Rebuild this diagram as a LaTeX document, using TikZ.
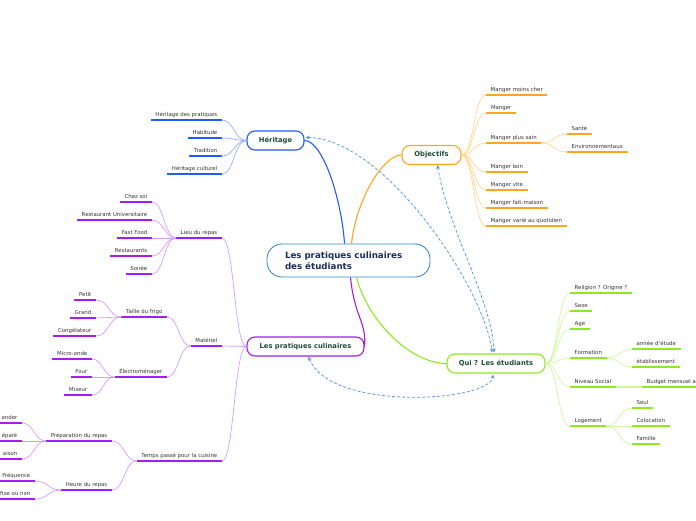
\documentclass[tikz,border=0pt]{standalone}
\usepackage{fontspec}
\setmainfont{DejaVu Sans}
\usetikzlibrary{arrows.meta,calc}
\definecolor{cblue}{HTML}{1F5CFF}
\definecolor{cbluel}{HTML}{8FB0FF}
\definecolor{corange}{HTML}{FFA51F}
\definecolor{corangel}{HTML}{FFD590}
\definecolor{cpurple}{HTML}{A41CF0}
\definecolor{cpurplel}{HTML}{D49CFF}
\definecolor{cgreen}{HTML}{8CEB1E}
\definecolor{cgreenl}{HTML}{CDF7A0}
\definecolor{ccentral}{HTML}{3A88C8}
\definecolor{crel}{HTML}{5A9BE0}
\definecolor{txt}{HTML}{333333}
\definecolor{ntxt}{HTML}{1E4D3A}
\definecolor{ctxt}{HTML}{1C2E5E}
\begin{document}
\begin{tikzpicture}[x=1pt,y=-1pt,
  leafbase/.style={font=\fontsize{5.4}{6}\selectfont, text=txt, inner xsep=4.5pt, inner ysep=2.3pt,
    text height=4pt, text depth=1pt},
  leafR/.style={leafbase, anchor=south west,
    append after command={(\tikzlastnode.south west) edge[draw=#1,line width=1.5pt] (\tikzlastnode.south east)}},
  leafL/.style={leafbase, anchor=south east,
    append after command={(\tikzlastnode.south west) edge[draw=#1,line width=1.5pt] (\tikzlastnode.south east)}},
  branch/.style={draw=#1, line width=1.1pt, fill=white, rounded corners=8pt, text=ntxt,
    font=\fontsize{6.8}{8}\selectfont\bfseries, minimum height=19pt, inner sep=0pt},
  hc/.style={to path={let \p1=(\tikztostart), \p2=(\tikztotarget) in
    .. controls (\x1/2+\x2/2,\y1) and (\x1/2+\x2/2,\y2) .. (\tikztotarget)}},
  conn/.style={draw=#1, line width=0.7pt},
  mainline/.style={draw=#1, line width=1.1pt},
  rel/.style={draw=crel, dashed, dash pattern=on 3pt off 2pt, line width=0.8pt,
    arrows={Stealth[length=4pt,width=4pt]-Stealth[length=4pt,width=4pt]}}
]
\useasboundingbox (0,0) rectangle (696,520);

% central node
\node[draw=ccentral, line width=0.9pt, fill=white, rounded corners=15pt, minimum height=33pt,
  text width=127pt, inner xsep=18pt, align=left, text=ctxt,
  font=\fontsize{8.7}{10.8}\selectfont\bfseries] (c) at (348.5,260.5)
  {Les pratiques culinaires\\des étudiants};

% main branch nodes
\node[branch=cblue, minimum width=57pt] (her) at (275.5,140.5) {Héritage};
\node[branch=corange, minimum width=59pt] (obj) at (431.5,155) {Objectifs};
\node[branch=cpurple, minimum width=117pt] (prat) at (305.5,346.5) {Les pratiques culinaires};
\node[branch=cgreen, minimum width=98pt] (qui) at (496,363.5) {Qui ? Les étudiants};

% main lines
\draw[mainline=cblue] ($(c.north)+(-4,0)$) .. controls +(-3,-45) and +(18,0) .. (her.east);
\draw[mainline=corange] ($(c.north)+(3,0)$) .. controls +(5,-45) and +(-18,0) .. (obj.west);
\draw[mainline=cpurple] ($(c.south)+(2,0)$) .. controls +(4,40) and +(2,-25) .. (prat.east);
\draw[mainline=cgreen] ($(c.south)+(8,0)$) .. controls +(12,45) and +(-35,0) .. (qui.west);

% Heritage leaves
\node[leafL=cblue] (h1) at (222,120) {Héritage des pratiques};
\node[leafL=cblue] (h2) at (222,138) {Habitude};
\node[leafL=cblue] (h3) at (222,156) {Tradition};
\node[leafL=cblue] (h4) at (222,174) {Héritage culturel};
\foreach \k in {h1,h2,h3,h4} \draw[conn=cbluel] (her.west) to[hc] (\k.south east);

% Objectifs leaves
\node[leafR=corange] (o1) at (486,95) {Manger moins cher};
\node[leafR=corange, minimum width=30pt, align=left] (o2) at (486,113) {Manger};
\node[leafR=corange] (o3) at (486,143) {Manger plus sain};
\node[leafR=corange] (o4) at (486,172) {Manger bon};
\node[leafR=corange] (o5) at (486,190) {Manger vite};
\node[leafR=corange] (o6) at (486,208) {Manger fait-maison};
\node[leafR=corange] (o7) at (486,226) {Manger varié au quotidien};
\foreach \k in {o1,o2,o3,o4,o5,o6,o7} \draw[conn=corangel] (obj.east) to[hc] (\k.south west);
\node[leafR=corange] (o31) at (567,134) {Santé};
\node[leafR=corange] (o32) at (567,152) {Environnementaux};
\foreach \k in {o31,o32} \draw[conn=corangel] (o3.south east) to[hc] (\k.south west);

% Pratiques leaves
\node[leafL=cpurple] (p1) at (222,238) {Lieu du repas};
\node[leafL=cpurple] (p2) at (222,346) {Matériel};
\node[leafL=cpurple] (p3) at (222,461) {Temps passé pour la cuisine};
\foreach \k in {p1,p2,p3} \draw[conn=cpurplel] (prat.west) to[hc] (\k.south east);

\node[leafL=cpurple] (l1) at (152,202) {Chez soi};
\node[leafL=cpurple] (l2) at (152,220) {Restaurant Universitaire};
\node[leafL=cpurple] (l3) at (152,238) {Fast Food};
\node[leafL=cpurple] (l4) at (152,256) {Restaurants};
\node[leafL=cpurple] (l5) at (152,274) {Soirée};
\foreach \k in {l1,l2,l3,l4,l5} \draw[conn=cpurplel] (p1.south west) to[hc] (\k.south east);

\node[leafL=cpurple] (m1) at (167,317) {Taille du frigo};
\node[leafL=cpurple] (m2) at (167,377) {Électroménager};
\foreach \k in {m1,m2} \draw[conn=cpurplel] (p2.south west) to[hc] (\k.south east);

\node[leafL=cpurple] (f1) at (96,300) {Petit};
\node[leafL=cpurple] (f2) at (96,318) {Grand};
\node[leafL=cpurple] (f3) at (96,336) {Congélateur};
\foreach \k in {f1,f2,f3} \draw[conn=cpurplel] (m1.south west) to[hc] (\k.south east);

\node[leafL=cpurple] (e1) at (92,359) {Micro-onde};
\node[leafL=cpurple] (e2) at (92,377) {Four};
\node[leafL=cpurple] (e3) at (92,395) {Mixeur};
\foreach \k in {e1,e2,e3} \draw[conn=cpurplel] (m2.south west) to[hc] (\k.south east);

\node[leafL=cpurple] (t1) at (112,441) {Préparation du repas};
\node[leafL=cpurple] (t2) at (112,490) {Heure du repas};
\foreach \k in {t1,t2} \draw[conn=cpurplel] (p3.south west) to[hc] (\k.south east);

\node[leafL=cpurple] (r1) at (22,423) {ander};
\node[leafL=cpurple] (r2) at (22,441) {éparé};
\node[leafL=cpurple] (r3) at (22,459) {aison};
\foreach \k in {r1,r2,r3} \draw[conn=cpurplel] (t1.south west) to[hc] (\k.south east);

\node[leafL=cpurple] (u1) at (35,481) {Fréquence};
\node[leafL=cpurple] (u2) at (35,499) {fixe ou non};
\foreach \k in {u1,u2} \draw[conn=cpurplel] (t2.south west) to[hc] (\k.south east);

% Qui leaves
\node[leafR=cgreen] (q1) at (570,293) {Religion ? Origine ?};
\node[leafR=cgreen] (q2) at (570,311) {Sexe};
\node[leafR=cgreen] (q3) at (570,329) {Age};
\node[leafR=cgreen] (q4) at (570,358) {Formation};
\node[leafR=cgreen] (q5) at (570,387) {Niveau Social};
\node[leafR=cgreen] (q6) at (570,426) {Logement};
\foreach \k in {q1,q2,q3,q4,q5,q6} \draw[conn=cgreenl] (qui.east) to[hc] (\k.south west);

\node[leafR=cgreen] (fa) at (632,349) {année d'étude};
\node[leafR=cgreen] (fb) at (632,367) {établissement};
\foreach \k in {fa,fb} \draw[conn=cgreenl] (q4.south east) to[hc] (\k.south west);

\node[leafR=cgreen] (nb) at (642,387) {Budget mensuel a};
\draw[conn=cgreenl, line width=1.2pt] (q5.south east) to[hc] (nb.south west);

\node[leafR=cgreen] (g1) at (632,408) {Seul};
\node[leafR=cgreen] (g2) at (632,426) {Colocation};
\node[leafR=cgreen] (g3) at (632,444) {Famille};
\foreach \k in {g1,g2,g3} \draw[conn=cgreenl] (q6.south east) to[hc] (\k.south west);

% relationships
\draw[rel] ($(her.east)+(1,-3)$) .. controls (385,138) and (485,290) .. ($(qui.north)+(-4,-1)$);
\draw[rel] ($(obj.south)+(6,0)$) .. controls (448,230) and (492,300) .. ($(qui.north)+(-2,-1)$);
\draw[rel] ($(prat.south)+(3,0)$) .. controls (330,412) and (490,402) .. ($(qui.south)+(-3,1)$);
\end{tikzpicture}
\end{document}
